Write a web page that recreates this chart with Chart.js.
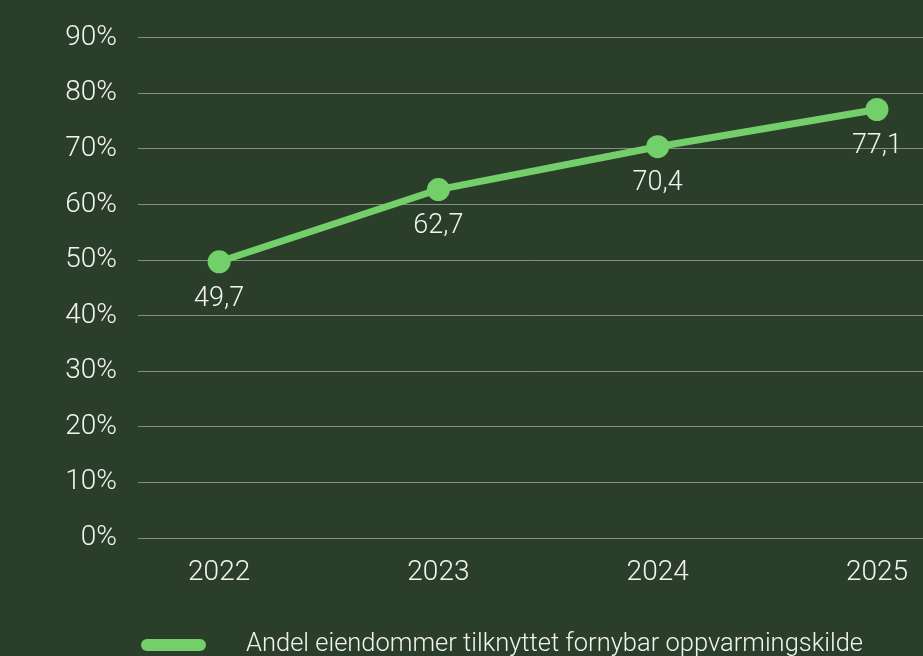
<!DOCTYPE html>
<html><head><meta charset="utf-8">
<script src="https://cdn.jsdelivr.net/npm/chart.js@4"></script>
<style>
html,body{margin:0;padding:0;background:#2b3e2a;}
#wrap{width:923px;height:656px;position:relative;}
</style>
</head><body>
<div id="wrap"><canvas id="c"></canvas></div>
<script>
const years = [2022, 2023, 2024, 2025];
const shares = [49.7, 62.7, 70.4, 77.1];
const yTickValues = [0, 10, 20, 30, 40, 50, 60, 70, 80, 90];
const seriesName = 'Andel eiendommer tilknyttet fornybar oppvarmingskilde';

const BG = '#2b3e2a';
const GREEN = '#72cf6a';
const TEXT = '#f3f4f1';
const FONT = "Roboto, 'Liberation Sans', Arial, sans-serif";
const WEIGHT = 300;

const fmt = v => String(v).replace('.', ',');

const bgPlugin = {
  id: 'bg',
  beforeDraw(chart) {
    const ctx = chart.ctx;
    ctx.save();
    ctx.fillStyle = BG;
    ctx.fillRect(0, 0, chart.width, chart.height);
    ctx.restore();
  }
};

const valueLabels = {
  id: 'valueLabels',
  afterDatasetsDraw(chart) {
    const ctx = chart.ctx;
    const meta = chart.getDatasetMeta(0);
    ctx.save();
    ctx.fillStyle = TEXT;
    ctx.font = WEIGHT + " 27px " + FONT;
    ctx.textAlign = 'center';
    ctx.textBaseline = 'middle';
    meta.data.forEach((pt, i) => {
      ctx.fillText(fmt(shares[i]), pt.x, pt.y + 37);
    });
    ctx.restore();
  }
};

const bottomLegend = {
  id: 'bottomLegend',
  afterDraw(chart) {
    const ctx = chart.ctx;
    const cy = 645;
    const x0 = chart.chartArea.left + 3;
    ctx.save();
    ctx.fillStyle = GREEN;
    ctx.beginPath();
    ctx.roundRect(x0, cy - 6, 65, 12, 6);
    ctx.fill();
    ctx.fillStyle = TEXT;
    ctx.font = WEIGHT + " 25.5px " + FONT;
    ctx.textAlign = 'left';
    ctx.textBaseline = 'middle';
    ctx.fillText(chart.data.datasets[0].label, x0 + 105, cy);
    ctx.restore();
  }
};

new Chart(document.getElementById('c'), {
  type: 'line',
  data: {
    datasets: [{
      label: seriesName,
      data: years.map((y, i) => ({ x: y, y: shares[i] })),
      borderColor: GREEN,
      backgroundColor: GREEN,
      borderWidth: 7,
      pointRadius: 11.5,
      pointHoverRadius: 11.5,
      pointBackgroundColor: GREEN,
      pointBorderWidth: 0,
      tension: 0
    }]
  },
  options: {
    responsive: true,
    maintainAspectRatio: false,
    animation: false,
    layout: { autoPadding: false, padding: { top: 36, right: 0, bottom: 68, left: 0 } },
    plugins: {
      legend: { display: false },
      tooltip: { enabled: false }
    },
    scales: {
      x: {
        type: 'linear',
        min: 2021.63,
        max: 2025.21,
        grid: { display: false },
        border: { display: false },
        afterBuildTicks(scale) { scale.ticks = years.map(v => ({ value: v })); },
        afterFit(scale) { scale.height = 50; scale.paddingLeft = 0; scale.paddingRight = 0; },
        ticks: {
          color: TEXT,
          font: { family: FONT, size: 28, weight: WEIGHT },
          padding: 10,
          maxRotation: 0,
          callback: v => String(v)
        }
      },
      y: {
        min: 0,
        max: 90,
        afterBuildTicks(scale) { scale.ticks = yTickValues.map(v => ({ value: v })); },
        afterFit(scale) { scale.width = 138; },
        grid: { color: 'rgba(255,255,255,0.42)', lineWidth: 1, drawTicks: false },
        border: { display: false },
        ticks: {
          color: TEXT,
          font: { family: FONT, size: 28, weight: WEIGHT },
          padding: 21,
          callback: v => v + '%'
        }
      }
    }
  },
  plugins: [bgPlugin, valueLabels, bottomLegend]
});
</script>
</body></html>
